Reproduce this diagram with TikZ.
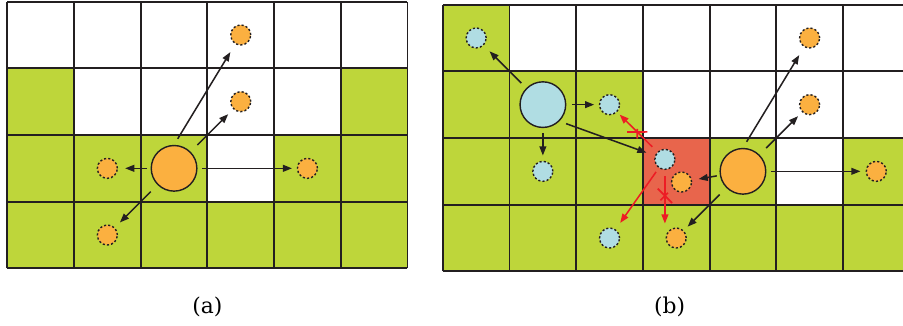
\documentclass[tikz,border=0pt]{standalone}
\usepackage{fontspec}
\setmainfont{DejaVu Serif}
\usetikzlibrary{arrows.meta,shapes.misc}

\definecolor{cellgreen}{RGB}{190,214,58}
\definecolor{cellred}{RGB}{232,101,76}
\definecolor{pkorange}{RGB}{251,176,64}
\definecolor{pkblue}{RGB}{176,221,227}
\definecolor{gridgray}{RGB}{35,31,32}
\definecolor{blockred}{RGB}{237,28,36}

\begin{document}
\begin{tikzpicture}[x=1cm,y=1cm,>={Triangle[length=3.9pt,width=2.9pt]},line join=round,
  gridline/.style={line width=0.8pt,draw=gridgray},
  big/.style={circle,draw=gridgray,line width=0.6pt,minimum size=0.684cm,inner sep=0pt},
  small/.style={circle,draw=gridgray,line width=0.6pt,dash pattern=on 0.9pt off 0.9pt,minimum size=0.3cm,inner sep=0pt},
  move/.style={->,line width=0.65pt,draw=gridgray,shorten <=3pt,shorten >=3pt},
  blocked/.style={->,line width=0.65pt,draw=blockred,shorten <=3pt,shorten >=2pt},
  xmark/.style={cross out,draw=blockred,line width=0.7pt,minimum size=0.19cm,inner sep=0pt,sloped},
  caption/.style={font=\fontsize{9.3}{11}\selectfont}]
\useasboundingbox (-0.11,-0.856) rectangle (13.43,4.024);
\clip (-0.11,-0.856) rectangle (13.43,4.024);
% (a) single particle, neighbours on free cells
\begin{scope}
\fill[cellgreen] (0,0) rectangle (6,1);
\foreach \c/\r in {0/1,1/1,2/1,4/1,5/1,0/2,5/2} {\fill[cellgreen] (\c,\r) rectangle ++(1,1);}
\draw[gridline] (0,0) grid (6,4);
\node[big,fill=pkorange] (A) at (2.5,1.5) {};
\node[small,fill=pkorange] (a1) at (3.5,3.5) {};
\node[small,fill=pkorange] (a2) at (3.5,2.5) {};
\node[small,fill=pkorange] (a3) at (1.5,1.5) {};
\node[small,fill=pkorange] (a4) at (4.5,1.5) {};
\node[small,fill=pkorange] (a5) at (1.5,0.5) {};
\draw[move,shorten >=4pt] (A.north) -- (a1);
\draw[move,shorten <=4pt] (A) -- (a2);
\draw[move,shorten <=1.5pt] (A) -- (a3);
\draw[move,shorten <=2pt,shorten >=2pt] (A) -- (a4);
\draw[move,shorten <=4pt] (A) -- (a5);
\node[caption] (capa) at (3,-0.585) {(a)};
\end{scope}
% (b) two particles, shared cell blocked
\begin{scope}[shift={(6.53,-0.045)}]
\fill[cellgreen] (0,0) rectangle (7,1);
\foreach \c/\r in {0/1,1/1,2/1,4/1,6/1,0/2,1/2,2/2,0/3} {\fill[cellgreen] (\c,\r) rectangle ++(1,1);}
\fill[cellred] (3,1) rectangle (4,2);
\draw[gridline] (0,0) grid (7,4);
\node[big,fill=pkblue] (B) at (1.5,2.5) {};
\node[big,fill=pkorange] (O) at (4.5,1.5) {};
\node[small,fill=pkblue] (b1) at (0.5,3.5) {};
\node[small,fill=pkblue] (b2) at (2.5,2.5) {};
\node[small,fill=pkblue] (b3) at (1.5,1.5) {};
\node[small,fill=pkblue] (b4) at (3.33,1.68) {};
\node[small,fill=pkblue] (b5) at (2.5,0.5) {};
\node[small,fill=pkorange] (o1) at (5.5,3.5) {};
\node[small,fill=pkorange] (o2) at (5.5,2.5) {};
\node[small,fill=pkorange] (o3) at (6.5,1.5) {};
\node[small,fill=pkorange] (o4) at (3.58,1.34) {};
\node[small,fill=pkorange] (o5) at (3.5,0.5) {};
\draw[move,shorten >=3.5pt] (B) -- (b1);
\draw[move,shorten <=2.3pt,shorten >=2pt] (B) -- (b2);
\draw[move,shorten <=2.2pt,shorten >=2.2pt] (B) -- (b3);
\draw[move,shorten >=3.8pt] (B.-45) -- (b4);
\draw[blocked,shorten >=1.5pt] (b4) -- (b2) node[midway,xmark] {};
\draw[blocked,shorten <=2pt,shorten >=3.3pt] (b4) -- (b5);
\draw[blocked,shorten <=2.5pt,shorten >=1.6pt] (b4) -- (b4 |- o5.north) node[pos=0.45,xmark] {};
\draw[move,shorten >=4pt] (O.north) -- (o1);
\draw[move,shorten <=4pt,shorten >=2.4pt] (O) -- (o2);
\draw[move,shorten <=2pt,shorten >=2.2pt] (O) -- (o3);
\draw[move,shorten <=1.3pt,shorten >=2.8pt] (O) -- (o4);
\draw[move,shorten <=4pt,shorten >=2.3pt] (O) -- (o5);
\node[caption] (capb) at (3.4,-0.54) {(b)};
\end{scope}
\end{tikzpicture}
\end{document}
